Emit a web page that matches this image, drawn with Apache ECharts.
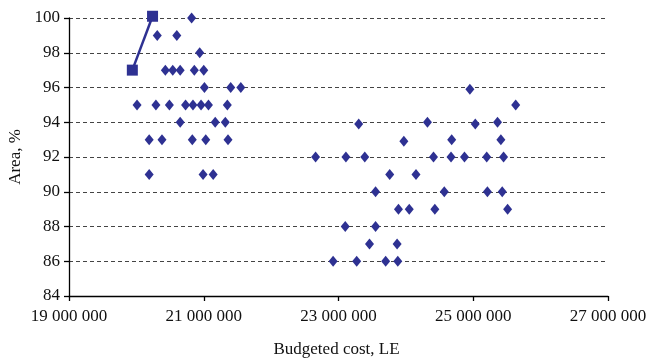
<!DOCTYPE html>
<html><head><meta charset="utf-8">
<script src="https://cdn.jsdelivr.net/npm/echarts@6/dist/echarts.min.js"></script>
<style>html,body{margin:0;padding:0;background:#fff}#c{width:646px;height:359px}</style>
</head><body><div id="c"></div>
<script>
// Scatter data: budgeted cost (LE) and area (%)
const costs = [
  20820000, 20310000, 20600000, 20940000,
  20430000, 20540000, 20650000, 20860000, 21000000,
  21010000, 21400000, 21550000,
  20010000, 20290000, 20490000, 20730000, 20840000, 20960000, 21070000, 21350000,
  20650000, 21170000, 21320000,
  20190000, 20380000, 20830000, 21030000, 21360000,
  20190000, 20990000, 21140000,
  24950000, 25630000,
  23300000, 24320000, 25030000, 25360000,
  23970000, 24680000, 25410000,
  22660000, 23110000, 23390000, 24410000, 24670000, 24870000, 25200000, 25450000,
  23760000, 24150000,
  23550000, 24570000, 25210000, 25430000,
  23890000, 24050000, 24430000, 25510000,
  23100000, 23550000,
  23460000, 23870000,
  22920000, 23270000, 23700000, 23880000
];
const areas = [
  100, 99, 99, 98,
  97, 97, 97, 97, 97,
  96, 96, 96,
  95, 95, 95, 95, 95, 95, 95, 95,
  94, 94, 94,
  93, 93, 93, 93, 93,
  91, 91, 91,
  95.9, 95,
  93.9, 94, 93.9, 94,
  92.9, 93, 93,
  92, 92, 92, 92, 92, 92, 92, 92,
  91, 91,
  90, 90, 90, 90,
  89, 89, 89, 89,
  88, 88,
  87, 87,
  86, 86, 86, 86
];
// Line series (two square markers)
const lineCosts = [19940000, 20240000];
const lineAreas = [97, 100.1];
const xTicks = [19000000, 21000000, 23000000, 25000000, 27000000];
const yTicks = [84, 86, 88, 90, 92, 94, 96, 98, 100];

const FONT = 'Liberation Serif';
const COLOR = '#2E3192';
function fmt(v){ return String(Math.round(v)).replace(/\B(?=(\d{3})+(?!\d))/g, ' '); }

const chart = echarts.init(document.getElementById('c'), null, {renderer:'canvas'});
chart.setOption({
  animation: false,
  backgroundColor: '#fff',
  grid: {left: 69, right: 38, top: 18, bottom: 63, containLabel: false, outerBoundsMode: 'none'},
  xAxis: {
    type: 'value', min: xTicks[0], max: xTicks[xTicks.length-1], interval: 2000000,
    axisLine: {show: true, lineStyle: {color: '#000', width: 1.3}},
    axisTick: {show: true, length: 5, lineStyle: {color: '#000', width: 1.3}},
    axisLabel: {formatter: fmt, color: '#111', fontFamily: FONT, fontSize: 17, margin: 12},
    splitLine: {show: false},
    name: 'Budgeted cost, LE', nameLocation: 'middle', nameGap: 45,
    nameTextStyle: {color: '#111', fontFamily: FONT, fontSize: 17, padding: [0, 4, 0, 0]}
  },
  yAxis: {
    type: 'value', min: yTicks[0], max: yTicks[yTicks.length-1], interval: 2,
    axisLine: {show: true, lineStyle: {color: '#000', width: 1.3}},
    axisTick: {show: true, length: 5, lineStyle: {color: '#000', width: 1.3}},
    axisLabel: {color: '#111', fontFamily: FONT, fontSize: 17, margin: 9},
    splitLine: {show: true, lineStyle: {color: '#444', type: [4, 3], width: 1}},
    name: 'Area, %', nameLocation: 'middle', nameGap: 39, nameRotate: 90,
    nameTextStyle: {color: '#111', fontFamily: FONT, fontSize: 17}
  },
  series: [
    {
      type: 'scatter', symbol: 'diamond', symbolSize: [9, 11], clip: false,
      itemStyle: {color: COLOR, opacity: 1},
      data: costs.map((c, i) => [c, areas[i]])
    },
    {
      type: 'line', symbol: 'rect', symbolSize: 11, clip: false,
      lineStyle: {color: COLOR, width: 2.5}, itemStyle: {color: COLOR},
      data: lineCosts.map((c, i) => [c, lineAreas[i]]),
      z: 3
    }
  ]
});
</script></body></html>
